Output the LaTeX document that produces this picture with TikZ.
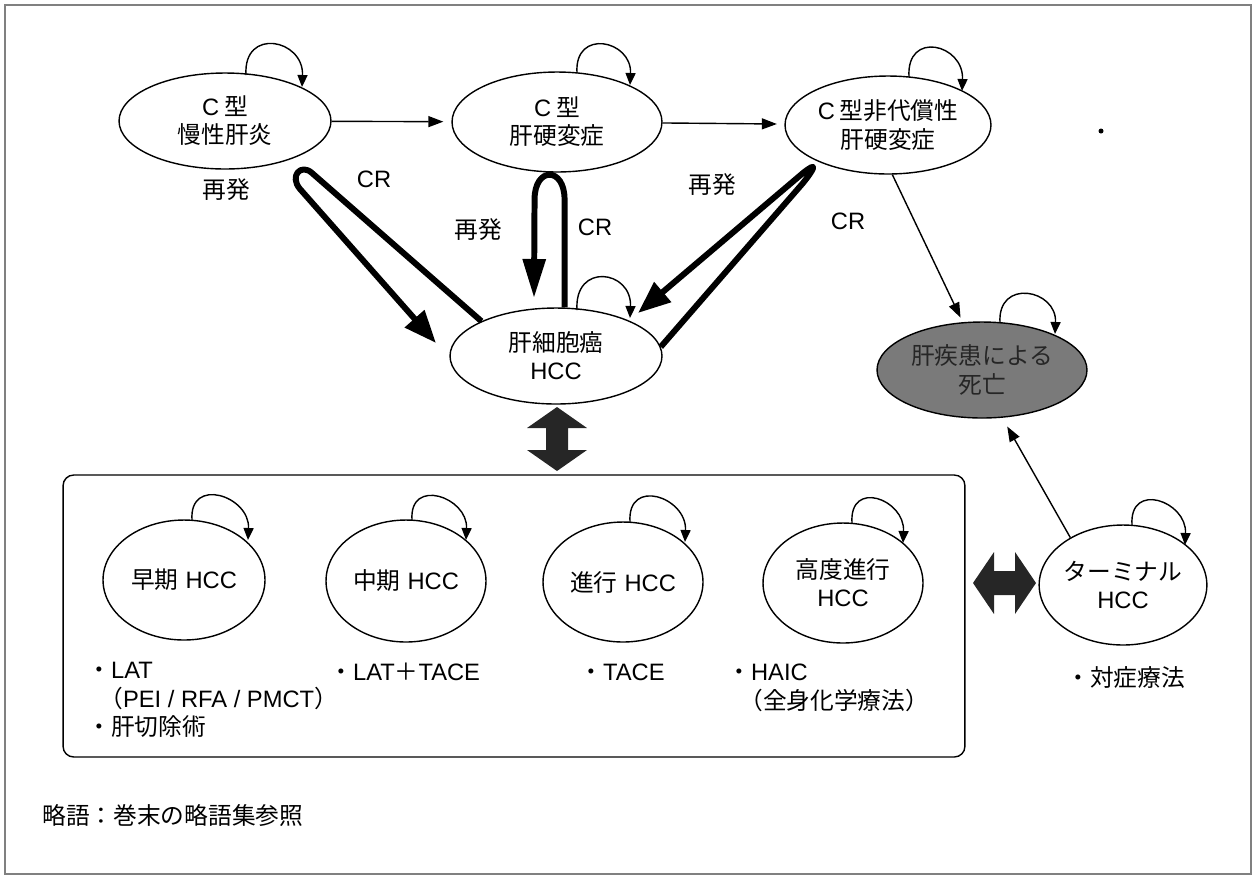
\documentclass[tikz,border=0pt]{standalone}
\usepackage{fontspec}
\setmainfont{Noto Sans CJK JP}
\newfontfamily\latf{Liberation Sans}
\newcommand{\la}[1]{{\latf #1}}
\usetikzlibrary{arrows.meta,calc,shapes.geometric}
\newcommand{\selfloop}[6]{\draw[loopar] ($(#1.center)+(#2,#3)$) .. controls +(-3,-#6) and +(2,-#6) .. ($(#1.center)+(#4,#5)$);}
\begin{document}
\begin{tikzpicture}[x=0.02cm,y=-0.02cm,
  every node/.style={font=\fontsize{13.5pt}{16pt}\selectfont, inner sep=0pt},
  st/.style={ellipse,draw,line width=0.8pt,align=center,fill=white},
  arr/.style={line width=0.8pt,-{Triangle[length=0.3cm,width=0.22cm]}},
  loopar/.style={line width=0.8pt,-{Triangle[length=0.24cm,width=0.2cm]}},
  fat/.style={line width=3.4pt,line join=round,-{Triangle[length=0.65cm,width=0.5cm]}},
  note/.style={anchor=base west},
]
\useasboundingbox (0,0) rectangle (1256,877);
\draw[black!50,line width=1pt] (5,5) rectangle (1251,874);

% lower box
\node[draw,line width=0.8pt,rounded corners=6pt,minimum width=18.04cm,minimum height=5.64cm] (box) at (514,616) {};

% states
\node[st,minimum width=4.24cm,minimum height=1.92cm] (n1) at (225,121) {\la{C}\hspace{0.2em}型\\慢性肝炎};
\node[st,minimum width=4.2cm,minimum height=2cm] (n2) at (557,122) {\la{C}\hspace{0.2em}型\\肝硬変症};
\node[st,minimum width=4.12cm,minimum height=1.96cm] (n3) at (888,125) {\la{C}\hspace{0.2em}型非代償性\\肝硬変症};
\node[st,minimum width=4.24cm,minimum height=1.92cm] (hcc) at (556,356) {肝細胞癌\\\la{HCC}};
\node[st,fill=black!52,text=black!85,minimum width=4.2cm,minimum height=1.92cm] (death) at (982,370) {肝疾患による\\死亡};
\node[st,minimum width=3.24cm,minimum height=2.4cm] (e1) at (184,580) {早期\hspace{0.3em}\la{HCC}};
\node[st,minimum width=3.2cm,minimum height=2.44cm] (e2) at (406,581) {中期\hspace{0.3em}\la{HCC}};
\node[st,minimum width=3.2cm,minimum height=2.4cm] (e3) at (623,582) {進行\hspace{0.3em}\la{HCC}};
\node[st,minimum width=3.2cm,minimum height=2.4cm] (e4) at (843,583) {高度進行\\\la{HCC}};
\node[st,minimum width=3.2cm,minimum height=2.4cm] (term) at (1123,585) {ターミナル\\\la{HCC}};

% thin arrows
\draw[arr,shorten >=0.16cm] (n1) -- (n2);
\draw[arr,shorten >=0.15cm] (n2) -- (n3);
\draw[arr,shorten >=0.1cm] (n3.-85) -- (death.112);
\draw[arr,shorten >=0.2cm] (term.138) -- (death.-67);

% self loops
\selfloop{n1}{21}{-46}{77}{-34}{48}
\selfloop{n2}{20}{-49}{73}{-37}{45}
\selfloop{n3}{21}{-48}{74}{-34}{47}
\selfloop{hcc}{21}{-46}{74}{-38}{48}
\selfloop{death}{18}{-47}{73}{-36}{45}
\selfloop{e1}{8}{-60}{64}{-40}{44}
\selfloop{e2}{6}{-61}{60}{-41}{43}
\selfloop{e3}{7}{-60}{62}{-40}{45}
\selfloop{e4}{9}{-60}{60}{-40}{44}
\selfloop{term}{9}{-60}{62}{-40}{44}

% thick CR / relapse hairpins
\coordinate (lhA) at ($(hcc.center)+(-120,-13)$);
\coordinate (mhA) at ($(hcc.center)+(-22,-58)$);
\coordinate (rhA) at ($(hcc.center)+(82,-43)$);
\draw[fat] (hcc.155) -- (312,173) .. controls (301,163) and (289,176) .. (300,189) -- (lhA);
\draw[fat,-{Triangle[length=0.78cm,width=0.44cm]}] (hcc.80) -- ++(0,-108) .. controls +(0,-33) and +(0,-33) .. ++(-30,0) -- (mhA);
\draw[fat] (hcc.5) -- (803,183) .. controls (815,168) and (818,161) .. (803,173) -- (rhA);

% labels
\node (r1) at (226,190) {再発};
\node (c1) at (374,179) {\la{CR}};
\node (r2) at (478,230) {再発};
\node (c2) at (595,227) {\la{CR}};
\node (r3) at (712,185) {再発};
\node (c3) at (848,221) {\la{CR}};

% fat double arrows
\fill[black!85] (557,407) -- (587,428) -- (568,428) -- (568,450) -- (587,450) -- (557,471) -- (527,450) -- (546,450) -- (546,428) -- (527,428) -- cycle;
\fill[black!85] (973,583) -- (994,552) -- (994,571) -- (1015,571) -- (1015,552) -- (1036,583) -- (1015,614) -- (1015,595) -- (994,595) -- (994,614) -- cycle;

% treatments
\node[note] (t1a) at (87,678) {・\la{LAT}};
\node[note] (t1b) at (99,707) {（\la{PEI / RFA / PMCT}）};
\node[note] (t1c) at (87,735) {・肝切除術};
\node[note] (t2) at (329,680) {・\la{LAT}＋\la{TACE}};
\node[note] (t3) at (579,680) {・\la{TACE}};
\node[note] (t4a) at (727,680) {・\la{HAIC}};
\node[note] (t4b) at (739,709) {（全身化学療法）};
\node[note] (t5) at (1066,686) {・対症療法};
\node[note] (abbr) at (42,824) {略語：巻末の略語集参照};

\fill (1101,131) circle[radius=0.05cm];
\end{tikzpicture}
\end{document}
